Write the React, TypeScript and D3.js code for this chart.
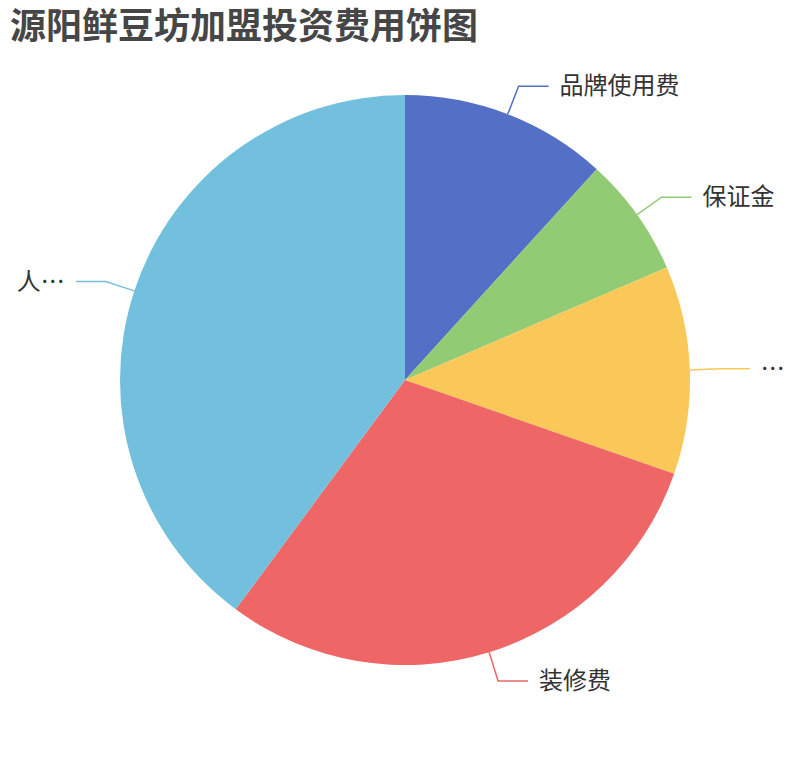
import React from "react";
import * as d3 from "d3";

const title = "源阳鲜豆坊加盟投资费用饼图";
const categories = ["品牌使用费", "保证金", "…", "装修费", "人…"];
const values = [11.75, 6.8, 11.8, 29.8, 39.9];
const colors = ["#5470c6", "#91cc75", "#fac858", "#ee6666", "#73c0de"];

export default function App() {
  const W = 810, H = 760;
  const cx = 405, cy = 380, r = 285;
  const len1 = 30, len2 = 30;
  const data = categories.map((c, i) => ({ name: c, value: values[i], color: colors[i] }));
  const pie = d3.pie<any>().sort(null).value((d: any) => d.value).startAngle(0).endAngle(2 * Math.PI);
  const arcs = pie(data);
  const arc = d3.arc<any>().innerRadius(0).outerRadius(r);
  const font = "'Noto Sans CJK SC', 'Noto Sans', sans-serif";
  return (
    <svg width={W} height={H} style={{ position: "absolute", left: 0, top: 0, background: "#fff" }}>
      <text x={10} y={39} fontFamily={font} fontWeight="bold" fontSize={36} fill="#464646">{title}</text>
      <g transform={`translate(${cx},${cy})`}>
        {arcs.map((a, i) => (
          <path key={i} d={arc(a) || ""} fill={a.data.color} />
        ))}
      </g>
      {arcs.map((a, i) => {
        const m = (a.startAngle + a.endAngle) / 2;
        const s = Math.sin(m), c = Math.cos(m);
        const p1 = [cx + r * s, cy - r * c];
        const p2 = [cx + (r + len1) * s, cy - (r + len1) * c];
        const right = s >= 0;
        const p3 = [p2[0] + (right ? len2 : -len2), p2[1]];
        const tx = p3[0] + (right ? 11 : -11);
        return (
          <g key={"l" + i}>
            <polyline points={[p1, p2, p3].map((p) => p.join(",")).join(" ")} fill="none" stroke={a.data.color} strokeWidth={1.5} />
            <text x={tx} y={p3[1] + 8} textAnchor={right ? "start" : "end"} fontFamily={font} fontSize={24} fill="#333">
              {a.data.name}
            </text>
          </g>
        );
      })}
    </svg>
  );
}
